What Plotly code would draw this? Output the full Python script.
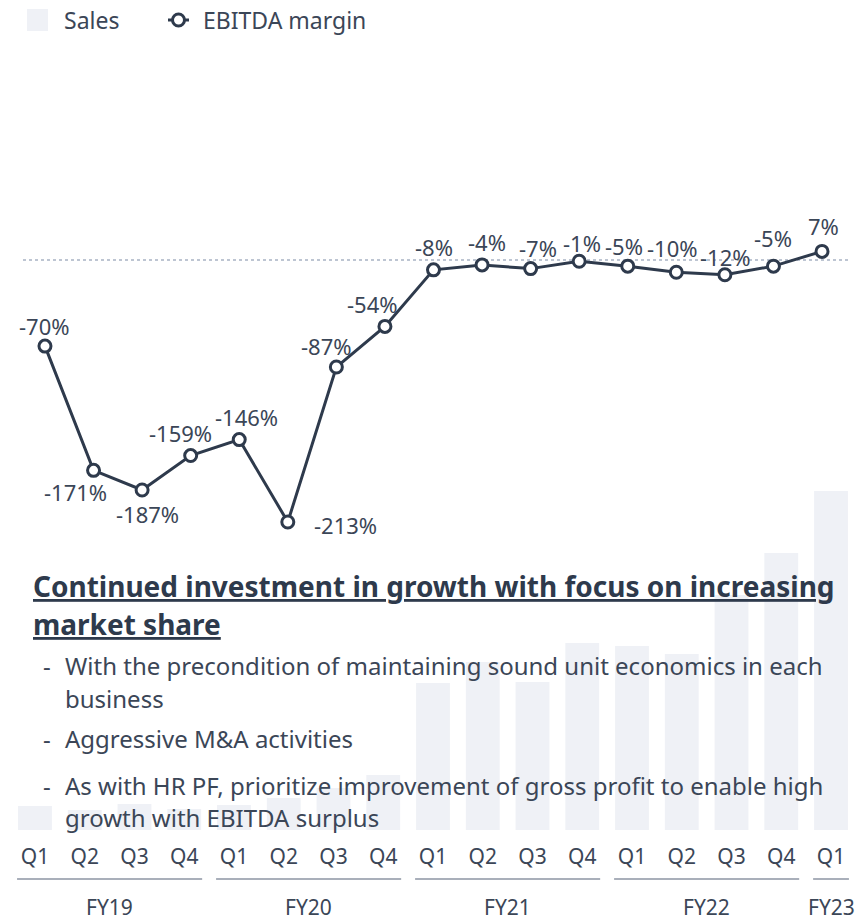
import plotly.graph_objects as go

# Quarterly series, FY19 Q1 through FY23 Q1
quarters = ["Q1", "Q2", "Q3", "Q4", "Q1", "Q2", "Q3", "Q4", "Q1", "Q2", "Q3", "Q4",
            "Q1", "Q2", "Q3", "Q4", "Q1"]
fiscal_years = ["FY19", "FY20", "FY21", "FY22", "FY23"]
fy_spans = [(0, 3), (4, 7), (8, 11), (12, 15), (16, 16)]
sales = [24, 20, 26, 21, 25, 32, 42, 55, 147, 168, 148, 187, 184, 176, 235, 277, 339]
ebitda_margin = [-70, -171, -187, -159, -146, -213, -87, -54, -8, -4, -7, -1, -5, -10, -12, -5, 7]

# Label offsets (px) for the margin labels
label_dx = [0, -18, 5, -10, 7, 58, -10, -12, 0, 5, 7, 3, -4, -4, 1, 0, 1]
label_dy = [20, -22, -24, 23, 23, -3, 21, 22, 23, 23, 21, 18, 20, 24, 18, 28, 25]

W, H = 861, 920
NAVY = "#2e3a4c"
TEXT = "#3b4657"
BAR = "#eff1f6"
FONT = "Noto Sans"

idx = list(range(len(quarters)))


def fy(px):
    return (H - px) / H


def fx(px):
    return px / W


fig = go.Figure()
fig.add_trace(go.Bar(
    x=idx, y=sales, name="Sales", marker=dict(color=BAR, line=dict(width=0)),
    width=0.68, xaxis="x", yaxis="y", hoverinfo="skip",
))
fig.add_trace(go.Scatter(
    x=idx, y=ebitda_margin, name="EBITDA margin", mode="lines+markers",
    line=dict(color=NAVY, width=3),
    marker=dict(symbol="circle", size=12, color="white", line=dict(color=NAVY, width=3)),
    xaxis="x2", yaxis="y2",
))

# margin labels
for i, v in enumerate(ebitda_margin):
    fig.add_annotation(
        x=i, y=v, xref="x2", yref="y2", text=f"{v}%", showarrow=False,
        xshift=label_dx[i], yshift=label_dy[i],
        font=dict(family=FONT, size=22, color=TEXT),
    )

# zero reference line for the margin axis
fig.add_shape(type="line", xref="paper", yref="y2", x0=fx(23), x1=fx(848), y0=0, y1=0,
              line=dict(color="#a8b2c3", width=1.5, dash="dot"), layer="below")

# fiscal year group lines and labels
for name, (a, b) in zip(fiscal_years, fy_spans):
    fig.add_shape(type="line", xref="x", yref="paper", x0=a - 0.36, x1=b + 0.36,
                  y0=fy(879), y1=fy(879), line=dict(color="#8c95a3", width=1.5))
    fig.add_annotation(x=(a + b) / 2, y=fy(907), xref="x", yref="paper", text=name,
                       showarrow=False, yanchor="middle",
                       font=dict(family=FONT, size=21, color=TEXT))

# legend
fig.add_shape(type="rect", xref="paper", yref="paper", x0=fx(27), x1=fx(48),
              y0=fy(31), y1=fy(9), fillcolor=BAR, line=dict(width=0))
fig.add_annotation(x=fx(62), y=fy(20), xref="paper", yref="paper", xanchor="left",
                   yanchor="middle", text="Sales", showarrow=False,
                   font=dict(family=FONT, size=23, color=TEXT))
fig.add_shape(type="line", xref="paper", yref="paper", x0=fx(168), x1=fx(189),
              y0=fy(20), y1=fy(20), line=dict(color=NAVY, width=3))
fig.add_shape(type="circle", xref="paper", yref="paper", x0=fx(172.5), x1=fx(184.5),
              y0=fy(26), y1=fy(14), fillcolor="white", line=dict(color=NAVY, width=3))
fig.add_annotation(x=fx(201), y=fy(20), xref="paper", yref="paper", xanchor="left",
                   yanchor="middle", text="EBITDA margin", showarrow=False,
                   font=dict(family=FONT, size=23, color=TEXT))

# headline and bullets
fig.add_annotation(
    x=fx(31), y=fy(586), xref="paper", yref="paper", xanchor="left", yanchor="middle",
    text="<u><b>Continued investment in growth with focus on increasing</b></u>",
    showarrow=False, font=dict(family=FONT, size=28, color=NAVY))
fig.add_annotation(
    x=fx(31), y=fy(624), xref="paper", yref="paper", xanchor="left", yanchor="middle",
    text="<u><b>market share</b></u>",
    showarrow=False, font=dict(family=FONT, size=28, color=NAVY))

bullet_lines = [
    ("-", "With the precondition of maintaining sound unit economics in each", 666),
    ("", "business", 698),
    ("-", "Aggressive M&A activities", 738),
    ("-", "As with HR PF, prioritize improvement of gross profit to enable high", 785),
    ("", "growth with EBITDA surplus", 817),
]
for dash, line, ypx in bullet_lines:
    if dash:
        fig.add_annotation(x=fx(41), y=fy(ypx), xref="paper", yref="paper", xanchor="left",
                           yanchor="middle", text=dash, showarrow=False,
                           font=dict(family=FONT, size=24, color=TEXT))
    fig.add_annotation(x=fx(63), y=fy(ypx), xref="paper", yref="paper", xanchor="left",
                       yanchor="middle", text=line, showarrow=False,
                       font=dict(family=FONT, size=24, color=TEXT))

fig.update_layout(
    width=W, height=H, margin=dict(l=0, r=0, t=0, b=0),
    paper_bgcolor="white", plot_bgcolor="rgba(0,0,0,0)",
    showlegend=False,
    xaxis=dict(domain=[fx(10.1), fx(855.9)], range=[-0.5, 16.5], showgrid=False,
               zeroline=False, showline=False, tickmode="array", tickvals=idx,
               ticktext=quarters, ticks="", ticklabelstandoff=12, anchor="y",
               tickfont=dict(family=FONT, size=21, color=TEXT)),
    yaxis=dict(domain=[fy(830), fy(430)], range=[0, 400], visible=False, anchor="x"),
    xaxis2=dict(domain=[fx(20.7), fx(846.3)], range=[-0.5, 16.5], visible=False,
                anchor="y2"),
    yaxis2=dict(domain=[fy(600), fy(200)], range=[-(600 - 260) / 1.23, (260 - 200) / 1.23],
                visible=False, anchor="x2"),
    bargap=0.3,
)

fig.write_html("out.html")
